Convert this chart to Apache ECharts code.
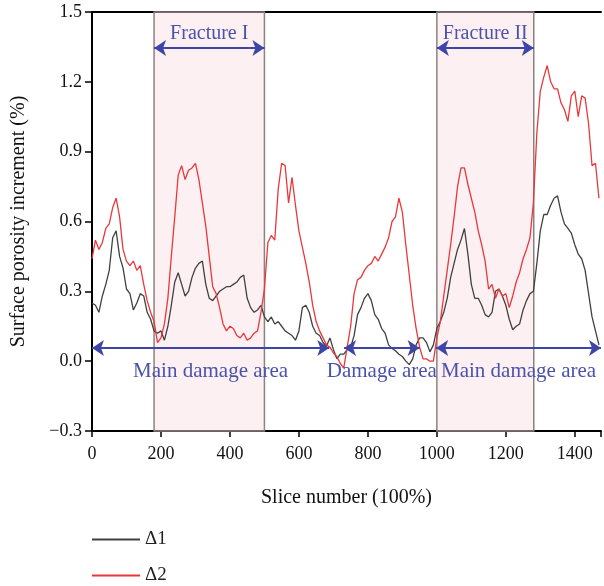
<!DOCTYPE html>
<html>
<head>
<meta charset="utf-8">
<script src="https://cdn.jsdelivr.net/npm/echarts@6/dist/echarts.min.js"></script>
<style>
html,body{margin:0;padding:0;background:#fff;}
#chart{width:604px;height:586px;}
</style>
</head>
<body>
<div id="chart"></div>
<script>
// ---- data (one value every 10 slices) ----
const sliceStep = 10;
const delta1 = [
0.25,0.24,0.21,0.28,0.33,0.39,0.53,0.56,0.45,0.40,
0.31,0.29,0.22,0.25,0.29,0.28,0.21,0.18,0.13,0.12,
0.13,0.09,0.15,0.24,0.34,0.38,0.33,0.28,0.30,0.36,
0.40,0.42,0.43,0.33,0.27,0.26,0.28,0.30,0.31,0.32,
0.32,0.33,0.34,0.36,0.37,0.27,0.23,0.21,0.22,0.24,
0.19,0.17,0.19,0.16,0.17,0.15,0.13,0.12,0.11,0.09,
0.13,0.23,0.24,0.21,0.15,0.12,0.11,0.08,0.065,0.10,
0.05,0.01,0.03,0.03,0.05,0.06,0.11,0.20,0.23,0.27,
0.29,0.26,0.20,0.18,0.14,0.12,0.07,0.055,0.045,0.03,
0.02,0.00,-0.015,0.01,0.07,0.10,0.10,0.08,0.04,0.07,
0.14,0.17,0.21,0.27,0.36,0.42,0.48,0.52,0.57,0.46,
0.33,0.27,0.27,0.24,0.20,0.19,0.21,0.30,0.31,0.28,
0.24,0.18,0.135,0.15,0.16,0.22,0.26,0.29,0.30,0.42,
0.56,0.63,0.63,0.67,0.70,0.71,0.64,0.59,0.57,0.55,
0.50,0.46,0.44,0.39,0.29,0.19,0.13,0.07
];
const delta2 = [
0.44,0.52,0.48,0.51,0.57,0.59,0.66,0.70,0.62,0.48,
0.43,0.41,0.43,0.39,0.41,0.33,0.26,0.21,0.17,0.08,
0.10,0.16,0.27,0.45,0.62,0.80,0.84,0.78,0.82,0.83,
0.85,0.78,0.68,0.58,0.45,0.32,0.29,0.23,0.16,0.13,
0.15,0.14,0.11,0.10,0.12,0.09,0.10,0.12,0.13,0.21,
0.31,0.51,0.54,0.52,0.74,0.85,0.84,0.68,0.79,0.67,
0.56,0.49,0.42,0.34,0.24,0.17,0.13,0.10,0.07,0.06,
0.035,0.02,-0.01,-0.03,0.06,0.15,0.29,0.35,0.36,0.39,
0.41,0.42,0.45,0.43,0.46,0.49,0.53,0.60,0.62,0.70,
0.64,0.50,0.37,0.24,0.14,0.06,0.01,0.01,0.00,0.00,
0.10,0.17,0.28,0.39,0.50,0.62,0.75,0.83,0.83,0.76,
0.70,0.64,0.56,0.50,0.43,0.31,0.33,0.27,0.31,0.28,
0.29,0.23,0.28,0.34,0.38,0.44,0.48,0.53,0.68,0.98,
1.16,1.22,1.27,1.20,1.17,1.17,1.11,1.08,1.03,1.14,
1.16,1.05,1.14,1.13,1.02,0.84,0.85,0.70
];
const xTicks = [0,200,400,600,800,1000,1200,1400];
const yTicks = [-0.3,0.0,0.3,0.6,0.9,1.2,1.5];
const fractures = [
  {name:'Fracture I',  from:180,  to:500},
  {name:'Fracture II', from:1000, to:1281}
];
const damageZones = [
  {name:'Main damage area', from:0,   to:688},
  {name:'Damage area',      from:731, to:950},
  {name:'Main damage area', from:998, to:1476}
];
const fractureArrowY = 1.345;
const damageArrowY = 0.057;
const xMax = 1476;

// ---- chart ----
const FONT = 'Liberation Serif';
const BLUE = '#3d46a6';
const LBLUE = '#4a52aa';
const toPairs = arr => arr.map((v,i)=>[i*sliceStep, v]);

const chart = echarts.init(document.getElementById('chart'), null, {renderer:'canvas'});
const legendText = {fontFamily:FONT,fontSize:19,color:'#222'};
const option = {
  animation:false,
  backgroundColor:'#ffffff',
  grid:{left:92,right:0,top:12,bottom:155,containLabel:false},
  legend:[
    {left:92, top:530, padding:0, data:['Δ1'], icon:'rect', itemWidth:48, itemHeight:2, itemGap:8, textStyle:legendText},
    {left:92, top:566, padding:0, data:['Δ2'], icon:'rect', itemWidth:48, itemHeight:2, itemGap:8, textStyle:legendText}
  ],
  xAxis:[{
    type:'value', min:0, max:xMax, interval:200,
    name:'Slice number (100%)', nameLocation:'middle', nameGap:57,
    nameTextStyle:{fontFamily:FONT,fontSize:20,color:'#111'},
    axisLine:{show:true,onZero:false,lineStyle:{color:'#000',width:2}},
    axisTick:{show:true,inside:false,length:6,lineStyle:{color:'#000',width:1.5}},
    axisLabel:{fontFamily:FONT,fontSize:18,color:'#111',margin:14,
      formatter:v=> xTicks.indexOf(v)>=0 ? String(v) : ''},
    splitLine:{show:false}
  },{
    type:'value', position:'top', min:0, max:xMax,
    axisLine:{show:true,onZero:false,lineStyle:{color:'#000',width:2}},
    axisTick:{show:false}, axisLabel:{show:false}, splitLine:{show:false}
  }],
  yAxis:{
    type:'value', min:-0.3, max:1.5, interval:0.3,
    name:'Surface porosity increment (%)', nameLocation:'middle', nameGap:63,
    nameTextStyle:{fontFamily:FONT,fontSize:20,color:'#111'},
    axisLine:{show:true,onZero:false,lineStyle:{color:'#000',width:2}},
    axisTick:{show:true,inside:false,length:7,lineStyle:{color:'#000',width:1.5}},
    axisLabel:{fontFamily:FONT,fontSize:18,color:'#111',margin:10,
      formatter:v=>{const t=yTicks.find(k=>Math.abs(k-v)<1e-6); if(t===undefined) return ''; return (t<0?'\u2212':'')+Math.abs(t).toFixed(1);}},
    splitLine:{show:false}
  },
  series:[
    {name:'Δ1', type:'line', data:toPairs(delta1), showSymbol:false, symbol:'none',
     lineStyle:{color:'#404040',width:1.3}, itemStyle:{color:'#404040'}, z:2},
    {name:'Δ2', type:'line', data:toPairs(delta2), showSymbol:false, symbol:'none',
     lineStyle:{color:'#e8383b',width:1.3}, itemStyle:{color:'#e8383b'}, z:3},
    {name:'annot', type:'line', data:[], z:5, silent:true,
     markArea:{silent:true,
       itemStyle:{color:'rgba(245,178,190,0.2)',borderColor:'#8c8282',borderWidth:1.5},
       data:fractures.map(f=>[{xAxis:f.from,yAxis:-0.3},{xAxis:f.to,yAxis:1.5}])
     },
     markLine:{silent:true, symbol:['arrow','arrow'], symbolSize:12, precision:3,
       lineStyle:{color:BLUE,width:2,type:'solid'},
       data:[
         ...fractures.map(f=>[
           {coord:[f.from,fractureArrowY], label:{show:true,formatter:f.name,position:'insideMiddleTop',distance:4,
             fontFamily:FONT,fontSize:20,color:LBLUE}},
           {coord:[f.to,fractureArrowY]}]),
         ...damageZones.map(d=>[
           {coord:[d.from,damageArrowY], label:{show:true,formatter:d.name,position:'insideMiddleBottom',distance:13,
             fontFamily:FONT,fontSize:21,color:LBLUE}},
           {coord:[d.to,damageArrowY]}])
       ]
     }
    }
  ]
};
chart.setOption(option);
</script>
</body>
</html>
